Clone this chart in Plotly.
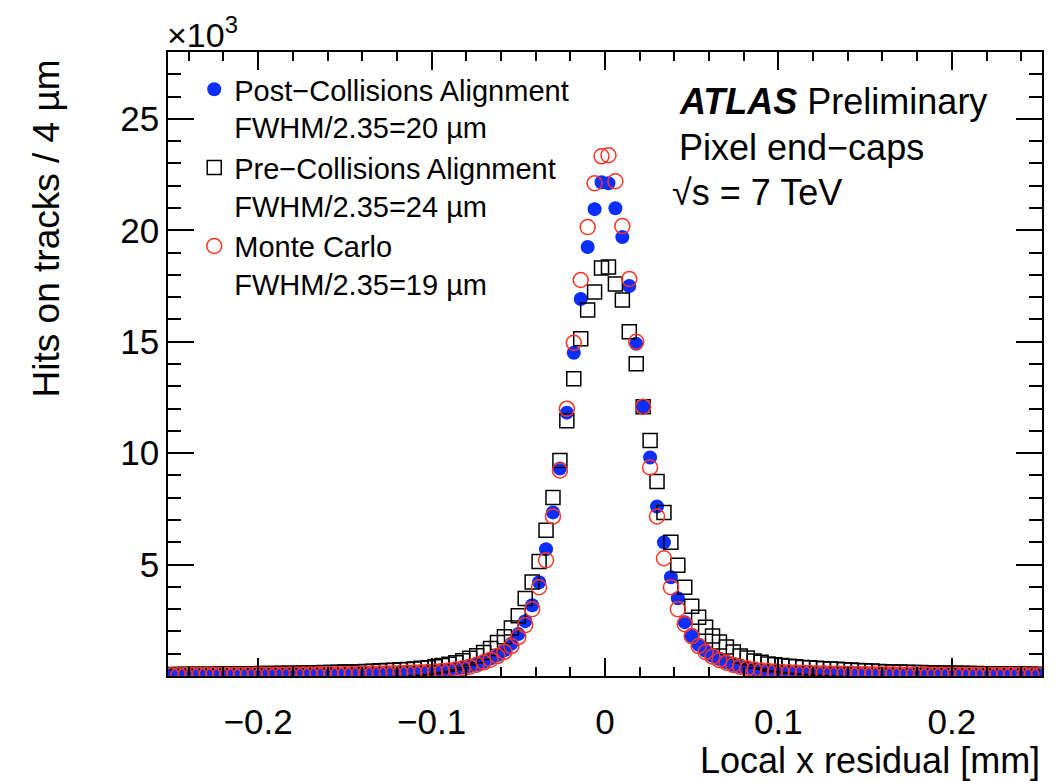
import numpy as np
import plotly.graph_objects as go

# 4 um bins from -0.252 to 0.252 mm (126 bins), centres below
bin_centres = np.round(np.linspace(-0.250, 0.250, 126), 3)

# hits per bin (left half then right half)
post_collisions = [
    41, 42, 43, 44, 45, 46, 47, 48, 50, 51, 53, 55, 57, 59, 61, 63, 65, 67, 70, 73,
    76, 79, 82, 86, 90, 95, 100, 105, 111, 117, 124, 131, 139, 148, 158, 170, 184, 200,
    220, 246, 278, 320, 375, 445, 530, 640, 780, 940, 1150, 1450, 1880, 2462, 3178, 4207,
    5685, 7341, 9310, 11817, 14502, 16919, 19247, 20948, 22156,
    22111, 20992, 19694, 17501, 14905, 12085, 9802, 7609, 5998, 4431, 3491, 2417, 1790,
    1400, 1132, 910, 760, 613, 506, 430, 365, 310, 270, 240, 215, 195, 180, 167, 156,
    146, 137, 129, 122, 115, 109, 103, 98, 93, 89, 85, 81, 78, 75, 72, 69, 66, 64, 62,
    60, 58, 56, 54, 52, 50, 49, 48, 46, 45, 44, 43, 42, 41, 40,
]

pre_collisions = [
    70, 72, 74, 76, 78, 81, 84, 87, 90, 93, 96, 99, 103, 107, 111, 115, 119, 124, 129,
    134, 140, 146, 153, 160, 167, 175, 184, 194, 205, 217, 230, 243, 258, 275, 295, 318,
    345, 375, 415, 470, 530, 600, 686, 792, 910, 1060, 1239, 1508, 1760, 2150, 2700,
    3477, 4221, 5134, 6535, 8012, 9668, 11459, 13338, 15129, 16427, 17233, 18307,
    18352, 17591, 16875, 15442, 14010, 12085, 10563, 8728, 7341, 5998,
    4968, 3984, 3133, 2641, 2193, 1790, 1522, 1298, 1074, 895,
    806, 671, 613, 540, 500, 470, 440, 410, 385, 365,
    345, 330, 315, 298, 282, 266, 251, 237, 222, 205,
    195, 185, 176, 168, 160, 153, 146, 140, 134, 128,
    123, 118, 113, 109, 105, 101, 97, 94, 91, 88,
    85, 82, 80,
]

monte_carlo = [
    38, 39, 40, 41, 42, 43, 44, 45, 46, 48, 49, 51, 53, 55, 57, 59, 61, 63, 65, 68, 71,
    74, 77, 80, 84, 88, 93, 98, 103, 109, 115, 122, 129, 137, 146, 156, 168, 182, 200,
    222, 250, 290, 343, 416, 506, 613, 730, 895, 1088, 1343, 1746, 2283, 2999, 3984,
    5192, 7162, 9221, 11996, 14950, 17770, 20142, 22111, 23320,
    23365, 22200, 20187, 17815, 14995, 12085, 9355, 7162, 5282, 3984,
    2999, 2327, 1790, 1343, 1074, 870, 715, 598, 498, 410,
    340, 287, 248, 220, 198, 181, 167, 155, 145, 136,
    128, 121, 114, 108, 102, 97, 92, 87, 83, 79,
    76, 73, 70, 67, 64, 62, 60, 58, 56, 54,
    52, 50, 49, 47, 46, 45, 44, 43, 42, 41,
    40, 39, 38,
]

x_ticks = [-0.2, -0.1, 0, 0.1, 0.2]
x_labels = ["\u22120.2", "\u22120.1", "0", "0.1", "0.2"]
y_ticks = [5000, 10000, 15000, 20000, 25000]
y_labels = ["5", "10", "15", "20", "25"]

assert len(post_collisions) == len(pre_collisions) == len(monte_carlo) == len(bin_centres)

FONT = "Liberation Sans, Arial, sans-serif"
BLUE = "#0a2eff"
RED = "#ff3322"

fig = go.Figure()

# post-collisions: filled blue dots
fig.add_trace(go.Scatter(x=bin_centres, y=post_collisions, mode="markers",
                         name="Post\u2212Collisions Alignment<br>FWHM/2.35=20 \u00b5m",
                         marker=dict(symbol="circle", size=14, color=BLUE, line=dict(width=0))))

# pre-collisions: open black squares
fig.add_trace(go.Scatter(x=bin_centres, y=pre_collisions, mode="markers",
                         name="Pre\u2212Collisions Alignment<br>FWHM/2.35=24 \u00b5m",
                         marker=dict(symbol="square-open", size=14, color="black",
                                     line=dict(width=1.5, color="black"))))

# monte carlo: open red circles
fig.add_trace(go.Scatter(x=bin_centres, y=monte_carlo, mode="markers",
                         name="Monte Carlo<br>FWHM/2.35=19 \u00b5m",
                         marker=dict(symbol="circle-open", size=15, color=RED,
                                     line=dict(width=1.5, color=RED))))

# axes, ROOT style frame with inward ticks on all sides
fig.update_xaxes(range=[-0.252, 0.252], tickvals=x_ticks, ticktext=x_labels,
                 ticks="inside", ticklen=18, tickwidth=1.5, tickcolor="black",
                 minor=dict(tickmode="linear", tick0=0, dtick=0.02, ticks="inside",
                            ticklen=9, tickwidth=1.5, tickcolor="black"),
                 showline=True, linecolor="black", linewidth=1.5, mirror="ticks",
                 showgrid=False, zeroline=False, ticklabelstandoff=14, automargin=False,
                 tickfont=dict(family=FONT, size=35, color="black"))
fig.update_yaxes(range=[0, 28000], tickvals=y_ticks, ticktext=y_labels,
                 ticks="inside", ticklen=26, tickwidth=1.5, tickcolor="black",
                 minor=dict(tickmode="linear", tick0=0, dtick=1000, ticks="inside",
                            ticklen=13, tickwidth=1.5, tickcolor="black"),
                 showline=True, linecolor="black", linewidth=1.5, mirror="ticks",
                 showgrid=False, zeroline=False, automargin=False,
                 tickfont=dict(family=FONT, size=35, color="black"))

annotations = [
    # axis titles at the far end of each axis
    dict(text="Local x residual [mm]", xref="paper", yref="paper", x=1.0, y=-0.136,
         xanchor="right", yanchor="middle", showarrow=False,
         font=dict(family=FONT, size=36, color="black")),
    dict(text="Hits on tracks / 4 \u00b5m", xref="paper", yref="paper", x=-0.138, y=0.992,
         xanchor="center", yanchor="top", textangle=-90, showarrow=False,
         font=dict(family=FONT, size=37, color="black")),
    dict(text="\u00d710<sup>3</sup>", xref="paper", yref="paper", x=-0.003, y=0.994,
         xanchor="left", yanchor="bottom", showarrow=False,
         font=dict(family=FONT, size=34, color="black")),
    # ATLAS label block
    dict(text="<b><i>ATLAS</i></b> Preliminary", xref="paper", yref="paper", x=0.582, y=0.92,
         xanchor="left", yanchor="middle", showarrow=False,
         font=dict(family=FONT, size=36, color="black")),
    dict(text="Pixel end\u2212caps", xref="paper", yref="paper", x=0.582, y=0.847,
         xanchor="left", yanchor="middle", showarrow=False,
         font=dict(family=FONT, size=36, color="black")),
    dict(text="\u221as = 7 TeV", xref="paper", yref="paper", x=0.574, y=0.775,
         xanchor="left", yanchor="middle", showarrow=False,
         font=dict(family=FONT, size=36, color="black")),
]

# the page body adds an 8 px offset, so the figure is 8 px smaller and shifted up/left
fig.update_layout(width=1048, height=773, autosize=False,
                  margin=dict(l=160, r=14, t=44, b=105),
                  plot_bgcolor="white", paper_bgcolor="white",
                  annotations=annotations,
                  legend=dict(x=0.03, y=0.981, xanchor="left", yanchor="top",
                              bgcolor="rgba(0,0,0,0)", valign="top", tracegroupgap=12,
                              font=dict(family=FONT, size=29, color="black")),
                  font=dict(family=FONT, color="black"))

fig.write_html("out.html")
